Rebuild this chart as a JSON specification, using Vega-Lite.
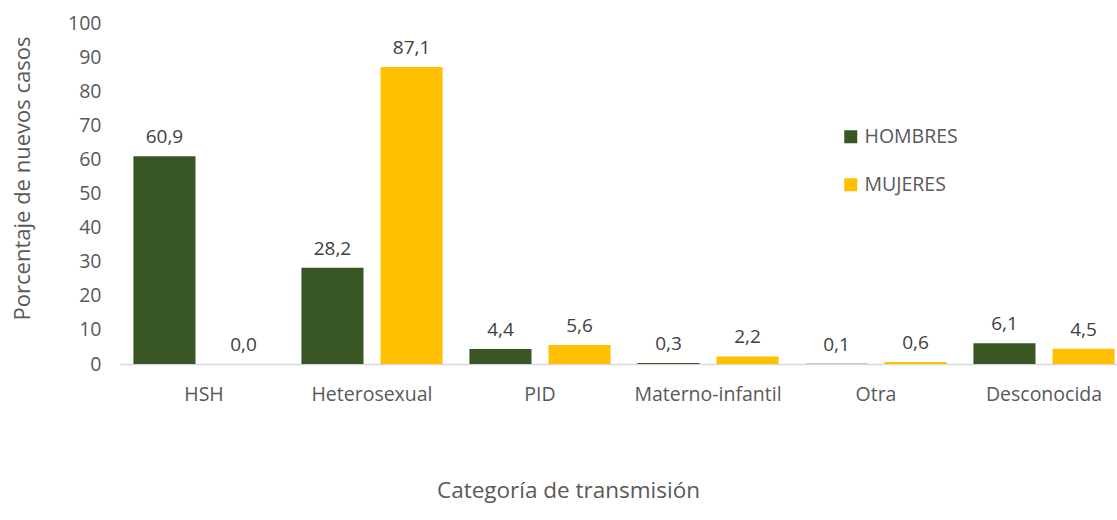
{
  "$schema": "https://vega.github.io/schema/vega-lite/v6.json",
  "width": 997,
  "height": 341,
  "autosize": {"type": "none"},
  "padding": {"left": 120, "top": 23, "right": 0, "bottom": 156},
  "config": {
    "locale": {"number": {"decimal": ",", "thousands": ".", "grouping": [3], "currency": ["", " €"]}},
    "view": {"stroke": null},
    "font": "Open Sans"
  },
  "data": {
    "values": [
      {"categoria": "HSH", "sexo": "HOMBRES", "pct": 60.9},
      {"categoria": "HSH", "sexo": "MUJERES", "pct": 0.0},
      {"categoria": "Heterosexual", "sexo": "HOMBRES", "pct": 28.2},
      {"categoria": "Heterosexual", "sexo": "MUJERES", "pct": 87.1},
      {"categoria": "PID", "sexo": "HOMBRES", "pct": 4.4},
      {"categoria": "PID", "sexo": "MUJERES", "pct": 5.6},
      {"categoria": "Materno-infantil", "sexo": "HOMBRES", "pct": 0.3},
      {"categoria": "Materno-infantil", "sexo": "MUJERES", "pct": 2.2},
      {"categoria": "Otra", "sexo": "HOMBRES", "pct": 0.1},
      {"categoria": "Otra", "sexo": "MUJERES", "pct": 0.6},
      {"categoria": "Desconocida", "sexo": "HOMBRES", "pct": 6.1},
      {"categoria": "Desconocida", "sexo": "MUJERES", "pct": 4.5}
    ]
  },
  "encoding": {
    "x": {
      "field": "categoria",
      "type": "nominal",
      "sort": ["HSH", "Heterosexual", "PID", "Materno-infantil", "Otra", "Desconocida"],
      "scale": {"range": [0, 1008], "paddingInner": 0.16, "paddingOuter": 0.08},
      "title": "Categoría de transmisión",
      "axis": {
        "labelAngle": 0,
        "labelFontSize": 19.5,
        "labelColor": "#595959",
        "labelPadding": 21,
        "ticks": false,
        "domainColor": "#D9D9D9",
        "domainWidth": 1.5,
        "titleFontSize": 22.5,
        "titleFontWeight": "normal",
        "titleColor": "#595959",
        "titleX": 448,
        "titleY": 126,
        "titleAlign": "center",
        "titleBaseline": "middle"
      }
    },
    "xOffset": {
      "field": "sexo",
      "type": "nominal",
      "sort": ["HOMBRES", "MUJERES"],
      "scale": {"paddingInner": 0.215, "paddingOuter": 0}
    },
    "y": {
      "field": "pct",
      "type": "quantitative",
      "scale": {"domain": [0, 100], "nice": false},
      "title": "Porcentaje de nuevos casos",
      "axis": {
        "values": [0, 10, 20, 30, 40, 50, 60, 70, 80, 90, 100],
        "grid": false,
        "domain": false,
        "ticks": false,
        "labelFontSize": 19.5,
        "labelColor": "#595959",
        "labelPadding": 19,
        "titleFontSize": 22,
        "titleFontWeight": "normal",
        "titleColor": "#595959",
        "titleX": -98,
        "titleY": 155,
        "titleBaseline": "middle",
        "titleAngle": -90
      }
    }
  },
  "layer": [
    {
      "mark": {"type": "bar"},
      "encoding": {
        "color": {
          "field": "sexo",
          "type": "nominal",
          "sort": ["HOMBRES", "MUJERES"],
          "scale": {"domain": ["HOMBRES", "MUJERES"], "range": ["#375623", "#FFC000"]},
          "legend": {
            "title": null,
            "orient": "none",
            "legendX": 721,
            "legendY": 104,
            "symbolType": "square",
            "symbolSize": 169,
            "symbolStrokeWidth": 0,
            "labelFontSize": 19.5,
            "labelColor": "#595959",
            "labelOffset": 4,
            "rowPadding": 27
          }
        }
      }
    },
    {
      "mark": {"type": "text", "dy": -19, "fontSize": 19, "color": "#404040", "baseline": "middle"},
      "encoding": {
        "text": {"field": "pct", "type": "quantitative", "format": ".1f"},
        "detail": {"field": "sexo"}
      }
    }
  ]
}
